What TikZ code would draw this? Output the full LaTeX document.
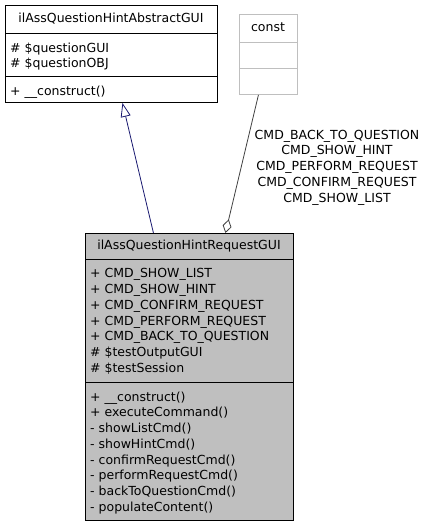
\documentclass[tikz,border=0pt]{standalone}
\usepackage{fontspec}
\setmainfont{DejaVu Sans}
\usetikzlibrary{arrows.meta,positioning,calc}
\definecolor{inhblue}{HTML}{191970}
\definecolor{aggrgray}{HTML}{404040}
\definecolor{classfill}{HTML}{BFBFBF}
\definecolor{constline}{HTML}{BFBFBF}

\begin{document}
\begin{tikzpicture}[
  x=1pt, y=-1pt,
  classbox/.style={rectangle, draw=black, line width=0.9pt, inner sep=0pt, anchor=north west},
  sepline/.style={draw=black, line width=0.9pt},
  title/.style={inner sep=0pt, text height=9.5pt, text depth=2.5pt, font=\fontsize{12.5}{15.75}\selectfont},
  members/.style={anchor=north west, inner sep=0pt, align=left, font=\fontsize{12.5}{15.75}\selectfont},
  inherit/.style={-{Triangle[open, length=14pt, width=10pt]}, draw=inhblue, line width=0.8pt},
  aggr/.style={{Diamond[open, length=14pt, width=9pt]}-, draw=aggrgray, line width=0.8pt}
]
  \useasboundingbox (0,0) rectangle (428,528);

  % base class
  \node[classbox, fill=white, minimum width=212, minimum height=97] (abstractgui) at (5,5) {};
  \draw[sepline] (5,33) -- (217,33);
  \draw[sepline] (5,76) -- (217,76);
  \node[title] (abstracttitle) at (111,19) {ilAssQuestionHintAbstractGUI};
  \node[members] (abstractattr) at (10,42.5) {\# \$questionGUI\\\# \$questionOBJ};
  \node[members] (abstractops) at (10,85.5) {+ \_\_construct()};

  % const
  \node[classbox, draw=constline, fill=white, minimum width=58, minimum height=80] (constbox) at (239,14) {};
  \draw[sepline, draw=constline] (239,42) -- (297,42);
  \draw[sepline, draw=constline] (239,68) -- (297,68);
  \node[title] (consttitle) at (268,28) {const};

  % request class
  \node[classbox, fill=classfill, minimum width=208, minimum height=287] (requestgui) at (85,233) {};
  \draw[sepline] (85,259) -- (293,259);
  \draw[sepline] (85,382) -- (293,382);
  \node[title] (requesttitle) at (189,246) {ilAssQuestionHintRequestGUI};
  \node[members] (requestattr) at (90,268.5) {+ CMD\_SHOW\_LIST\\+ CMD\_SHOW\_HINT\\+ CMD\_CONFIRM\_REQUEST\\+ CMD\_PERFORM\_REQUEST\\+ CMD\_BACK\_TO\_QUESTION\\\# \$testOutputGUI\\\# \$testSession};
  \node[members] (requestops) at (90,391.5) {+ \_\_construct()\\+ executeCommand()\\- showListCmd()\\- showHintCmd()\\- confirmRequestCmd()\\- performRequestCmd()\\- backToQuestionCmd()\\- populateContent()};

  % relations
  \draw[inherit] ([xshift=-36pt]requestgui.north) -- ([xshift=11pt]abstractgui.south);
  \draw[aggr] ([xshift=36pt]requestgui.north) -- ([xshift=-10pt]constbox.south);
  \node[align=center, inner sep=0pt, font=\fontsize{12.5}{15.75}\selectfont] (constlabel) at (337,167.5) {CMD\_BACK\_TO\_QUESTION\\CMD\_SHOW\_HINT\\CMD\_PERFORM\_REQUEST\\CMD\_CONFIRM\_REQUEST\\CMD\_SHOW\_LIST};
\end{tikzpicture}
\end{document}
